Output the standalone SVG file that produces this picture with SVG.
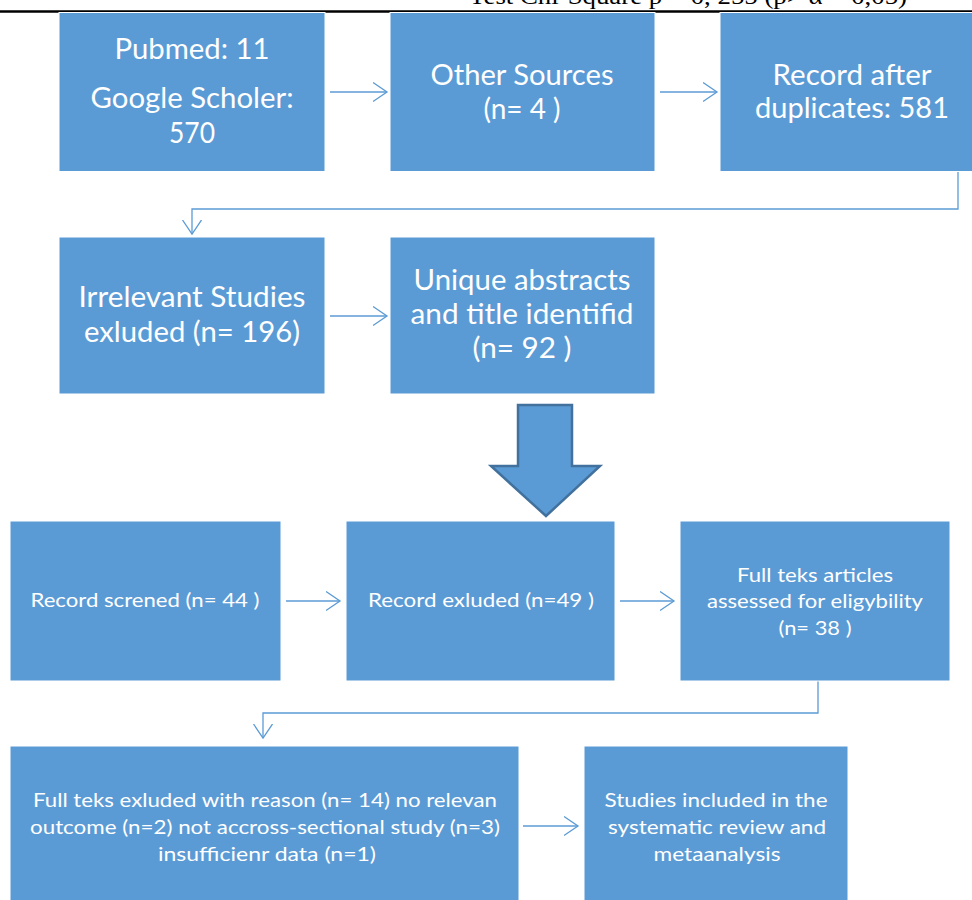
<svg xmlns="http://www.w3.org/2000/svg" width="972" height="900" viewBox="0 0 972 900">
<defs>
<style>
.box{fill:#5B9BD5;stroke:#ffffff;stroke-width:1}
.big{font-family:Lato,"Open Sans","Liberation Sans",sans-serif;font-size:28px;fill:#ffffff;text-anchor:middle}
.small{font-family:Lato,"Open Sans","Liberation Sans",sans-serif;font-size:20px;fill:#ffffff;text-anchor:middle}
.conn{fill:none;stroke:#5B9BD5;stroke-width:1.3}
.head{fill:none;stroke:#5B9BD5;stroke-width:1.3}
</style>
<marker id="arr" markerUnits="userSpaceOnUse" markerWidth="16" markerHeight="22" refX="14" refY="10" orient="auto">
<path class="head" d="M0,0.5 L14,10 L0,19.5"/>
</marker>
</defs>
<rect width="972" height="900" fill="#ffffff"/>
<g id="header">
<line x1="0" y1="11.5" x2="972" y2="11.5" stroke="#000" stroke-width="2.5"/>
<text x="469" y="4" font-family="'Liberation Serif','Times New Roman',serif" font-size="24" fill="#000" textLength="438" lengthAdjust="spacingAndGlyphs">Test Chi-Square p = 0, 255 (p&gt; α = 0,05)</text>
</g>
<g id="connectors">
<line class="conn" x1="330" y1="92" x2="387" y2="92" marker-end="url(#arr)"/>
<line class="conn" x1="660" y1="92" x2="717" y2="92" marker-end="url(#arr)"/>
<polyline class="conn" points="958,171 958,209 192,209 192,234" marker-end="url(#arr)"/>
<line class="conn" x1="330" y1="316" x2="387" y2="316" marker-end="url(#arr)"/>
<line class="conn" x1="286" y1="601" x2="340" y2="601" marker-end="url(#arr)"/>
<line class="conn" x1="620" y1="601" x2="674" y2="601" marker-end="url(#arr)"/>
<polyline class="conn" points="818,681 818,713 263,713 263,738" marker-end="url(#arr)"/>
<line class="conn" x1="523" y1="826" x2="578" y2="826" marker-end="url(#arr)"/>
</g>
<g id="bigArrow">
<polygon points="518,405 572,405 572,466 600,466 546,516 491,466 518,466" fill="#5B9BD5" stroke="#41719C" stroke-width="2.5" stroke-linejoin="miter"/>
</g>
<g id="n1">
<rect class="box" x="59" y="12.5" width="266" height="159"/>
<text class="big" x="192" y="59" textLength="155" lengthAdjust="spacingAndGlyphs">Pubmed: 11</text>
<text class="big" x="192" y="108" textLength="203" lengthAdjust="spacingAndGlyphs">Google Scholer:</text>
<text class="big" x="192" y="143" textLength="46" lengthAdjust="spacingAndGlyphs">570</text>
</g>
<g id="n2">
<rect class="box" x="390" y="12.5" width="265" height="159"/>
<text class="big" x="522" y="85" textLength="183" lengthAdjust="spacingAndGlyphs">Other Sources</text>
<text class="big" x="522" y="119">(n= 4 )</text>
</g>
<g id="n3">
<rect class="box" x="720" y="12.5" width="265" height="159"/>
<text class="big" x="852" y="85" textLength="159" lengthAdjust="spacingAndGlyphs">Record after</text>
<text class="big" x="852" y="118" textLength="194" lengthAdjust="spacingAndGlyphs">duplicates: 581</text>
</g>
<g id="n4">
<rect class="box" x="59" y="237" width="266" height="157"/>
<text class="big" x="192" y="307" textLength="227" lengthAdjust="spacingAndGlyphs">Irrelevant Studies</text>
<text class="big" x="192" y="342" textLength="216" lengthAdjust="spacingAndGlyphs">exluded (n= 196)</text>
</g>
<g id="n5">
<rect class="box" x="390" y="237" width="265" height="157"/>
<text class="big" x="522" y="290" textLength="217" lengthAdjust="spacingAndGlyphs">Unique abstracts</text>
<text class="big" x="522" y="324" textLength="223" lengthAdjust="spacingAndGlyphs">and title identifid</text>
<text class="big" x="522" y="358" textLength="99" lengthAdjust="spacingAndGlyphs">(n= 92 )</text>
</g>
<g id="n6">
<rect class="box" x="10" y="521" width="271" height="160"/>
<text class="small" x="145" y="607" textLength="229" lengthAdjust="spacingAndGlyphs">Record screned (n= 44 )</text>
</g>
<g id="n7">
<rect class="box" x="346" y="521" width="269" height="160"/>
<text class="small" x="481" y="607" textLength="226" lengthAdjust="spacingAndGlyphs">Record exluded (n=49 )</text>
</g>
<g id="n8">
<rect class="box" x="680" y="521" width="270" height="160"/>
<text class="small" x="815" y="582" textLength="156" lengthAdjust="spacingAndGlyphs">Full teks articles</text>
<text class="small" x="815" y="608" textLength="216" lengthAdjust="spacingAndGlyphs">assessed for eligybility</text>
<text class="small" x="815" y="635" textLength="73" lengthAdjust="spacingAndGlyphs">(n= 38 )</text>
</g>
<g id="n9">
<rect class="box" x="10" y="746" width="509" height="160"/>
<text class="small" x="265" y="807" textLength="464" lengthAdjust="spacingAndGlyphs">Full teks exluded with reason (n= 14) no relevan</text>
<text class="small" x="265" y="834" textLength="470" lengthAdjust="spacingAndGlyphs">outcome (n=2) not accross-sectional study (n=3)</text>
<text class="small" x="267" y="861" textLength="218" lengthAdjust="spacingAndGlyphs">insufficienr data (n=1)</text>
</g>
<g id="n10">
<rect class="box" x="584" y="746" width="264" height="160"/>
<text class="small" x="716" y="807" textLength="223" lengthAdjust="spacingAndGlyphs">Studies included in the</text>
<text class="small" x="717" y="834" textLength="218" lengthAdjust="spacingAndGlyphs">systematic review and</text>
<text class="small" x="717" y="861" textLength="127" lengthAdjust="spacingAndGlyphs">metaanalysis</text>
</g>
</svg>
